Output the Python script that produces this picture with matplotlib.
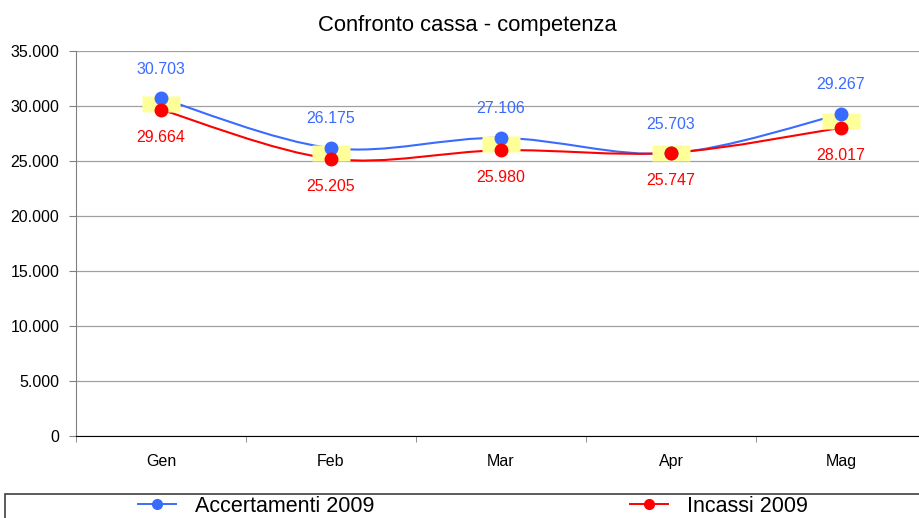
import numpy as np
import matplotlib.pyplot as plt
from matplotlib.path import Path
from matplotlib.patches import PathPatch, Rectangle
from matplotlib.lines import Line2D

mesi = ['Gen', 'Feb', 'Mar', 'Apr', 'Mag']
accertamenti = [30703, 26175, 27106, 25703, 29267]
incassi = [29664, 25205, 25980, 25747, 28017]
acc_lbl = ['30.703', '26.175', '27.106', '25.703', '29.267']
inc_lbl = ['29.664', '25.205', '25.980', '25.747', '28.017']

blu = '#3A6BFF'
rosso = '#FF0000'
giallo = '#FFFF99'

plt.rcParams['font.family'] = ['Liberation Sans', 'DejaVu Sans']


def curva(x, y):
    # bezier smoothing like excel "smoothed line"
    pts = np.column_stack([x, y]).astype(float)
    ext = np.vstack([pts[0], pts, pts[-1]])
    verts = [pts[0]]
    codes = [Path.MOVETO]
    for i in range(len(pts) - 1):
        p0, p1, p2, p3 = ext[i], ext[i + 1], ext[i + 2], ext[i + 3]
        verts += [p1 + (p2 - p0) / 6, p2 - (p3 - p1) / 6, p2]
        codes += [Path.CURVE4] * 3
    return Path(verts, codes)


fig = plt.figure(figsize=(9.2, 5.18), dpi=100)
ax = fig.add_axes([76 / 920, 1 - 436 / 518, 850 / 920, 385 / 518])

x = np.arange(len(mesi))
ax.add_patch(PathPatch(curva(x, accertamenti), fill=False, edgecolor=blu, lw=1.5, zorder=3))
ax.add_patch(PathPatch(curva(x, incassi), fill=False, edgecolor=rosso, lw=1.5, zorder=3))

medi = [(a + b) / 2 for a, b in zip(accertamenti, incassi)]
box = [(-1.2, -0.5), (1.2, -0.5), (1.2, 0.5), (-1.2, 0.5), (-1.2, -0.5)]
ax.plot(x, medi, ls='none', marker=box, markersize=27, markerfacecolor=giallo,
        markeredgecolor='none', zorder=4)

ax.plot(x, accertamenti, ls='none', marker='o', markersize=9, color=blu, zorder=5)
ax.plot(x, incassi, ls='none', marker='o', markersize=9, color=rosso, zorder=6)

for xi, v, t in zip(x, accertamenti, acc_lbl):
    ax.annotate(t, (xi, v), xytext=(0, 21), textcoords='offset points',
                ha='center', va='center', color=blu, fontsize=11.5)
for xi, v, t in zip(x, incassi, inc_lbl):
    ax.annotate(t, (xi, v), xytext=(0, -20), textcoords='offset points',
                ha='center', va='center', color=rosso, fontsize=11.5)

ax.set_xlim(-0.5, 4.5)
ax.set_ylim(0, 35000)
ax.set_yticks(np.arange(0, 35001, 5000))
ax.set_yticklabels(['0' if v == 0 else f'{v // 1000}.000' for v in range(0, 35001, 5000)])
ax.set_xticks(x)
ax.set_xticklabels(mesi)
ax.set_xticks(np.arange(-0.5, 4.6, 1), minor=True)
ax.tick_params(axis='x', which='major', length=0, pad=13, labelsize=11.5)
ax.tick_params(axis='x', which='minor', length=4, color='#808080', direction='out')
ax.tick_params(axis='y', length=5, color='#808080', pad=7, labelsize=11.5)
ax.grid(axis='y', color='#A0A0A0', lw=0.9)
ax.set_axisbelow(True)
for s in ['top', 'right']:
    ax.spines[s].set_visible(False)
ax.spines['left'].set_color('#808080')
ax.spines['bottom'].set_color('black')

fig.text(467 / 920, 1 - 25 / 518, 'Confronto cassa - competenza', ha='center', va='center', fontsize=15.8)

# legend box at bottom
fig.patches.append(Rectangle((5 / 920, -0.1), 1.0, 1 - 494 / 518 + 0.1, transform=fig.transFigure,
                             fill=False, edgecolor='#404040', lw=1.2))
h1 = Line2D([], [], color=blu, marker='o', markersize=7, lw=1.4)
h2 = Line2D([], [], color=rosso, marker='o', markersize=7, lw=1.4)
leg_font = {'size': 15.5}
fig.legend([h1], ['Accertamenti 2009'], loc='center left', bbox_to_anchor=(138 / 920, 1 - 506 / 518),
           frameon=False, prop=leg_font, handlelength=1.75, handletextpad=0.9, borderpad=0, borderaxespad=0)
fig.legend([h2], ['Incassi 2009'], loc='center left', bbox_to_anchor=(630 / 920, 1 - 506 / 518),
           frameon=False, prop=leg_font, handlelength=1.75, handletextpad=0.9, borderpad=0, borderaxespad=0)

fig.savefig('out.png', dpi=100)
